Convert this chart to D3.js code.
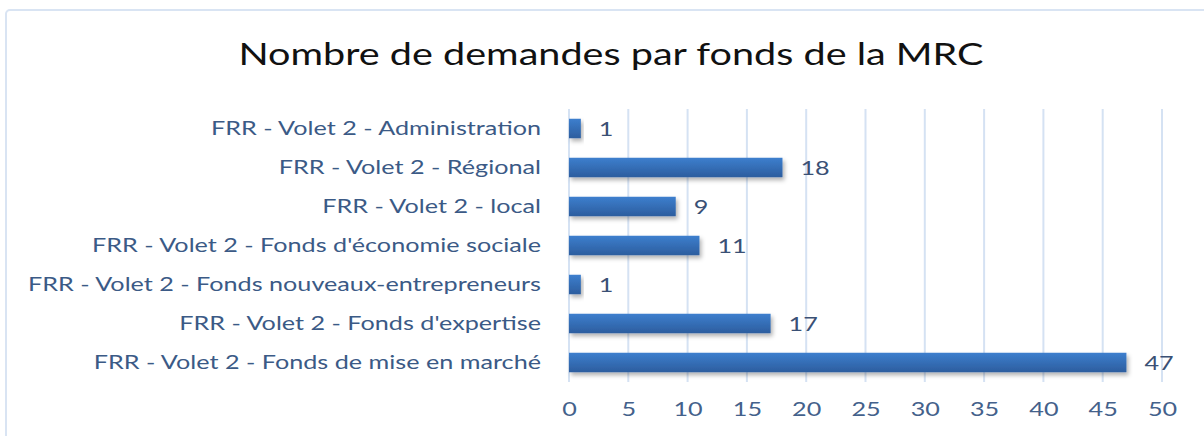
<!DOCTYPE html>
<html>
<head>
<meta charset="utf-8">
<script src="https://cdn.jsdelivr.net/npm/d3@7"></script>
<style>
  body { margin: 0; background: #fff; }
  text { font-family: Lato, "Open Sans", sans-serif; }
</style>
</head>
<body>
<svg class="chart"></svg>
<script>
var categories = [
    "FRR - Volet 2 - Administration",
    "FRR - Volet 2 - Régional",
    "FRR - Volet 2 - local",
    "FRR - Volet 2 - Fonds d'économie sociale",
    "FRR - Volet 2 - Fonds nouveaux-entrepreneurs",
    "FRR - Volet 2 - Fonds d'expertise",
    "FRR - Volet 2 - Fonds de mise en marché"
];
var values = [1, 18, 9, 11, 1, 17, 47];
var ticks = [0, 5, 10, 15, 20, 25, 30, 35, 40, 45, 50];
var title = "Nombre de demandes par fonds de la MRC";

function show() {
    'use strict';

    var W = 1204, H = 436;
    var margin = { top: 109, bottom: 54, right: 42, left: 569 },
        width = W - margin.left - margin.right,
        height = H - margin.top - margin.bottom;
    var stretch = 1.26; // text in the source is drawn wide

    var svg = d3.select(".chart")
        .attr("width", W)
        .attr("height", H);

    // gradient + shadow for the bars
    var defs = svg.append("defs");
    var grad = defs.append("linearGradient")
        .attr("id", "barGrad")
        .attr("x1", 0).attr("y1", 0).attr("x2", 0).attr("y2", 1);
    grad.append("stop").attr("offset", "0%").attr("stop-color", "#3d7fce");
    grad.append("stop").attr("offset", "100%").attr("stop-color", "#2c5d9e");
    var filt = defs.append("filter").attr("id", "shadow")
        .attr("x", "-10%").attr("y", "-30%").attr("width", "130%").attr("height", "180%");
    filt.append("feDropShadow")
        .attr("dx", 2).attr("dy", 3).attr("stdDeviation", 2)
        .attr("flood-color", "#000").attr("flood-opacity", 0.3);

    // outer frame
    svg.append("rect")
        .attr("x", 6).attr("y", 10)
        .attr("width", W + 20).attr("height", H + 20)
        .attr("rx", 4)
        .attr("fill", "none")
        .attr("stroke", "#d9e4f3")
        .attr("stroke-width", 2);

    svg.append("text")
        .attr("transform", "translate(611,65) scale(1.32,1)")
        .attr("text-anchor", "middle")
        .attr("font-size", 30)
        .attr("fill", "#111")
        .text(title);

    var chart = svg.append("g")
        .attr("transform", "translate(" + margin.left + "," + margin.top + ")");

    var x = d3.scaleLinear().domain([0, 50]).range([0, 593]);
    var y = d3.scaleBand().domain(categories).range([0, height])
        .paddingInner(0.5).paddingOuter(0.25);

    // grid lines
    chart.selectAll("line.grid").data(ticks).enter()
        .append("line")
        .attr("class", "grid")
        .attr("x1", function(d) { return x(d); })
        .attr("x2", function(d) { return x(d); })
        .attr("y1", 0)
        .attr("y2", height)
        .attr("stroke", "#d5e2f3")
        .attr("stroke-width", 2);

    // x axis labels
    var xAxis = d3.axisBottom(x).tickValues(ticks).tickSize(0).tickPadding(20);
    var gx = chart.append("g")
        .attr("transform", "translate(0," + height + ")")
        .call(xAxis);
    gx.select(".domain").remove();
    gx.selectAll("text")
        .attr("font-size", 20)
        .attr("font-family", "Lato, 'Open Sans', sans-serif")
        .attr("fill", "#44618b")
        .attr("transform", "scale(" + stretch + ",1)");

    // y axis labels
    var yAxis = d3.axisLeft(y).tickSize(0);
    var gy = chart.append("g").call(yAxis);
    gy.select(".domain").remove();
    gy.selectAll("text")
        .attr("x", 0)
        .attr("font-size", 20)
        .attr("font-family", "Lato, 'Open Sans', sans-serif")
        .attr("fill", "#3b5a86")
        .attr("transform", "translate(-28,0) scale(" + stretch + ",1)");

    // bars
    chart.selectAll("rect.bar").data(values).enter()
        .append("rect")
        .attr("class", "bar")
        .attr("x", 0)
        .attr("y", function(d, i) { return y(categories[i]); })
        .attr("width", function(d) { return x(d); })
        .attr("height", y.bandwidth())
        .attr("fill", "url(#barGrad)")
        .attr("filter", "url(#shadow)");

    // value labels
    chart.selectAll("text.val").data(values).enter()
        .append("text")
        .attr("class", "val")
        .attr("transform", function(d, i) {
            return "translate(" + (x(d) + 18) + "," + (y(categories[i]) + y.bandwidth() / 2) + ") scale(" + stretch + ",1)";
        })
        .attr("dy", "0.35em")
        .attr("font-size", 20)
        .attr("fill", "#3a5075")
        .text(function(d) { return d; });
}
show();
</script>
</body>
</html>
